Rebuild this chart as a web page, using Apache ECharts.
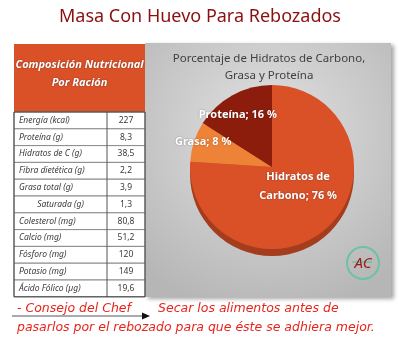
<!DOCTYPE html>
<html>
<head>
<meta charset="utf-8">
<script src="https://cdn.jsdelivr.net/npm/echarts@6/dist/echarts.min.js"></script>
<style>
  html, body { margin: 0; padding: 0; background: #fff; }
  #main { width: 400px; height: 363px; }
</style>
</head>
<body>
<div id="main"></div>
<script>
// tabla de composición nutricional
const rowLabels = ['Energía (kcal)', 'Proteína (g)', 'Hidratos de C (g)', 'Fibra dietética (g)', 'Grasa total (g)',
  'Saturada (g)', 'Colesterol (mg)', 'Calcio (mg)', 'Fósforo (mg)', 'Potasio (mg)', 'Ácido Fólico (µg)']
const rowValues = ['227', '8,3', '38,5', '2,2', '3,9', '1,3', '80,8', '51,2', '120', '149', '19,6']
// tarta
const pieNames = ['Hidratos de Carbono', 'Grasa', 'Proteína']
const pieValues = [76, 8, 16]
const pieColors = ['#da5128', '#ee8236', '#8c1c0c']

const myChart = echarts.init(document.getElementById('main'))

const font = 'Noto Sans'
const tableX = 14
const tableW = 131
const colX = 107
const headY = 44
const rowY = 112
const rowH = 16.8

const graphics = []
// panel gris
graphics.push({
  type: 'rect', z: 0,
  shape: { x: 145, y: 43, width: 246, height: 254 },
  style: {
    fill: { type: 'radial', x: 0.5, y: 0.35, r: 0.75,
      colorStops: [{ offset: 0, color: '#e2e2e2' }, { offset: 1, color: '#b6b6b6' }] },
    shadowBlur: 4, shadowOffsetX: 3, shadowOffsetY: 2, shadowColor: 'rgba(0,0,0,0.35)'
  }
})
// cabecera de la tabla
graphics.push({
  type: 'rect', z: 1,
  shape: { x: tableX, y: headY, width: tableW, height: rowY - headY },
  style: { fill: '#da5128' }
})
graphics.push({
  type: 'text', z: 2, x: tableX + tableW / 2, y: 74,
  style: { text: 'Composición Nutricional\nPor Ración', fill: '#fff', font: 'italic bold 11px ' + font,
    align: 'center', verticalAlign: 'middle', lineHeight: 18,
    textShadowColor: 'rgba(0,0,0,0.4)', textShadowBlur: 2 }
})
// filas
rowLabels.forEach((label, i) => {
  const y = rowY + i * rowH
  graphics.push({
    type: 'rect', z: 1,
    shape: { x: tableX, y: y, width: tableW, height: rowH },
    style: { fill: '#fff', stroke: '#8a8a8a', lineWidth: 1 }
  })
  const indent = label.indexOf('Saturada') === 0
  graphics.push({
    type: 'text', z: 2,
    x: indent ? (tableX + colX) / 2 : tableX + 5, y: y + rowH / 2,
    style: { text: label, fill: '#3a3a3a', font: 'italic 8.5px ' + font,
      align: indent ? 'center' : 'left', verticalAlign: 'middle' }
  })
  graphics.push({
    type: 'text', z: 2, x: (colX + tableX + tableW) / 2, y: y + rowH / 2,
    style: { text: rowValues[i], fill: '#3a3a3a', font: '8.5px ' + font, align: 'center', verticalAlign: 'middle' }
  })
})
graphics.push({
  type: 'line', z: 2,
  shape: { x1: colX, y1: rowY, x2: colX, y2: rowY + rowLabels.length * rowH },
  style: { stroke: '#555', lineWidth: 1 }
})
graphics.push({
  type: 'rect', z: 2,
  shape: { x: tableX, y: rowY, width: tableW, height: rowLabels.length * rowH },
  style: { fill: null, stroke: '#444', lineWidth: 1 }
})
// logo
graphics.push({
  type: 'circle', z: 3, shape: { cx: 363, cy: 263, r: 16 },
  style: { fill: null, stroke: '#6cc2a2', lineWidth: 2 }
})
graphics.push({
  type: 'line', z: 3, shape: { x1: 352, y1: 262, x2: 372, y2: 262 },
  style: { stroke: '#6cc2a2', lineWidth: 1.5 }
})
graphics.push({
  type: 'text', z: 4, x: 363, y: 264,
  style: { text: 'AC', fill: '#a01818', font: 'italic 15px ' + font, align: 'center', verticalAlign: 'middle' }
})
// consejo del chef
const chefFont = 'oblique 12.5px "DejaVu Sans"'
graphics.push({
  type: 'line', z: 2, shape: { x1: 12, y1: 316, x2: 143, y2: 316 },
  style: { stroke: '#555', lineWidth: 1 }
})
graphics.push({
  type: 'polygon', z: 2, shape: { points: [[142, 312.5], [150, 316], [142, 319.5]] },
  style: { fill: '#111' }
})
graphics.push({
  type: 'text', z: 2, x: 17, y: 309,
  style: { text: '- Consejo del Chef', fill: '#e8231b', font: chefFont, verticalAlign: 'middle' }
})
graphics.push({
  type: 'text', z: 2, x: 158, y: 309,
  style: { text: 'Secar los alimentos antes de', fill: '#e8231b', font: chefFont, verticalAlign: 'middle' }
})
graphics.push({
  type: 'text', z: 2, x: 17, y: 328,
  style: { text: 'pasarlos por el rebozado para que éste se adhiera mejor.', fill: '#e8231b',
    font: chefFont, verticalAlign: 'middle' }
})

// desplazamiento de las etiquetas de la tarta
const labelShift = [[-4, -13], [-27, -12], [-13, -14]]

const option = {
  backgroundColor: '#fff',
  animation: false,
  title: [
    {
      text: 'Masa Con Huevo Para Rebozados',
      left: 'center', top: 3,
      textStyle: { color: '#8b1010', fontFamily: font, fontSize: 18, fontWeight: 'normal' }
    },
    {
      text: 'Porcentaje de Hidratos de Carbono,\nGrasa y Proteína',
      left: 264, top: 45, textAlign: 'center',
      textStyle: { color: '#404040', fontFamily: font, fontSize: 11.5, fontWeight: 'normal', lineHeight: 17 }
    }
  ],
  graphic: { elements: graphics },
  series: [
    {
      // canto de la tarta
      type: 'pie', silent: true, z: 3,
      center: [272, 174], radius: 82,
      label: { show: false }, labelLine: { show: false },
      itemStyle: { color: '#a63c1e' },
      data: pieValues.map((v, i) => ({ name: pieNames[i], value: v }))
    },
    {
      type: 'pie', z: 4,
      center: [272, 167], radius: 82,
      startAngle: 90,
      data: pieValues.map((v, i) => ({ name: pieNames[i], value: v, itemStyle: { color: pieColors[i] } })),
      label: {
        show: true, position: 'inside',
        color: '#fff', fontFamily: font, fontSize: 11, fontWeight: 'bold', lineHeight: 19,
        textShadowColor: 'rgba(0,0,0,0.35)', textShadowBlur: 2,
        formatter: p => p.name.replace('Hidratos de ', 'Hidratos de\n') + '; ' + p.value + ' %'
      },
      labelLayout: p => ({ dx: labelShift[p.dataIndex][0], dy: labelShift[p.dataIndex][1] }),
      labelLine: { show: false }
    }
  ]
}

myChart.setOption(option)
</script>
</body>
</html>
